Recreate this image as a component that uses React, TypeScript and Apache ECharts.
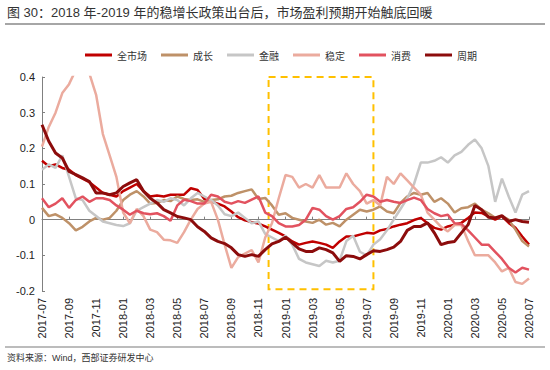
import React, { useEffect, useRef } from "react";
import * as echarts from "echarts";

// x positions: half-month steps starting 2017-07 (value = months since 2017-07)
const START_YEAR = 2017;
const START_MONTH = 7;

const seriesNames = ["全市场", "成长", "金融", "稳定", "消费", "周期"];
const seriesColors = ["#C00000", "#BE9168", "#C6C6C6", "#EBAB9E", "#E2525F", "#8C0C0C"];
const seriesWidths = [2.5, 2.5, 2.5, 2.5, 2.5, 3];

const quanShiChang = [
  0.165, 0.15, 0.155, 0.145, 0.14, 0.125, 0.115, 0.105, 0.09, 0.075, 0.07, 0.065,
  0.08, 0.09, 0.1, 0.08, 0.065, 0.068, 0.065, 0.07, 0.07, 0.07, 0.088, 0.083,
  0.058, 0.051, 0.045, 0.037, 0.023, 0.007, -0.002, -0.007, -0.011, -0.019, -0.028, -0.037,
  -0.047, -0.061, -0.07, -0.065, -0.061, -0.065, -0.07, -0.079, -0.061, -0.047, -0.047, -0.042,
  -0.037, -0.039, -0.03, -0.026, -0.019, -0.014, -0.01, -0.001, 0.005, -0.01, -0.023, -0.028,
  -0.019, -0.014, -0.009, 0.005, 0.02, 0.019, 0.009, 0.0, 0.009, -0.009, -0.023, -0.047,
  -0.07,
];
const chengZhang = [
  0.033, 0.01, 0.015, 0.005, -0.01, -0.03, -0.02, -0.005, 0.005, 0.0, 0.005, 0.025,
  0.055, 0.07, 0.08, 0.065, 0.045, 0.047, 0.055, 0.052, 0.065, 0.058, 0.055, 0.057,
  0.05, 0.055, 0.057, 0.065, 0.067, 0.075, 0.08, 0.085, 0.058, 0.061, 0.04, 0.014,
  0.018, 0.005, 0.0, -0.005, -0.009, 0.0, -0.014, -0.009, -0.019, 0.0, 0.014, 0.028,
  0.023, 0.028, 0.037, 0.023, 0.018, 0.047, 0.065, 0.075, 0.07, 0.075, 0.05, 0.06,
  0.045, 0.02, 0.032, 0.035, 0.045, 0.028, 0.018, 0.005, 0.01, 0.0, -0.028, -0.06,
  -0.075,
];
const jinRong = [
  0.14, 0.155, 0.145, 0.18, 0.12, 0.06, 0.055, 0.025, 0.01, -0.005, -0.01, -0.015,
  -0.018, -0.01, 0.025, 0.035, 0.045, 0.055, 0.05, 0.06, 0.055, 0.04, 0.06, 0.075,
  0.065, 0.055, 0.04, 0.015, 0.01, 0.02, 0.005, -0.01, -0.005, -0.04, -0.05, -0.06,
  -0.045, -0.07, -0.11, -0.12, -0.125, -0.13, -0.115, -0.12, -0.115, -0.06, -0.045, -0.09,
  -0.1, -0.07, -0.055, -0.03, 0.0, 0.03, 0.06, 0.1, 0.16, 0.16, 0.165, 0.175,
  0.16, 0.18, 0.19, 0.21, 0.225, 0.2, 0.15, 0.05, 0.115, 0.065, 0.02, 0.07,
  0.08,
];
const wenDing = [
  0.205, 0.26, 0.3, 0.355, 0.38, 0.42, 0.45, 0.41, 0.35, 0.24, 0.18, 0.12,
  0.02, -0.01, 0.03, 0.01, -0.028, -0.035, -0.056, -0.058, -0.065, -0.035, 0.0, 0.03,
  0.045, 0.05, 0.0, -0.07, -0.135, -0.105, -0.095, -0.085, -0.12, -0.05, -0.01, 0.06,
  0.125, 0.12, 0.09, 0.1, 0.09, 0.125, 0.09, 0.09, 0.09, 0.13, 0.1, 0.08,
  0.045, 0.055, 0.04, 0.12, 0.1, 0.13, 0.11, 0.09, 0.07, 0.02, 0.0, -0.02,
  -0.033, -0.015, -0.015, -0.06, -0.1, -0.1, -0.1, -0.12, -0.145, -0.135, -0.175, -0.18,
  -0.165,
];
const xiaoFei = [
  0.06, 0.035, 0.045, 0.06, 0.033, 0.055, 0.065, 0.05, 0.06, 0.06, 0.055, 0.04,
  0.028, 0.014, 0.025, 0.018, 0.015, 0.018, 0.01, -0.003, 0.04, 0.056, 0.052, 0.045,
  0.045, 0.07, 0.065, 0.05, 0.045, 0.052, 0.047, 0.056, 0.065, 0.02, 0.01, -0.01,
  -0.019, -0.019, -0.015, 0.0, 0.033, 0.028, 0.01, 0.0, 0.01, 0.03, 0.035, 0.05,
  0.07, 0.065, 0.05, 0.055, 0.05, 0.047, 0.055, 0.062, 0.055, 0.03, 0.018, 0.01,
  0.014, -0.01, -0.012, -0.03, -0.05, -0.07, -0.07, -0.09, -0.11, -0.135, -0.148, -0.135,
  -0.14,
];
const zhouQi = [
  0.266, 0.22, 0.187, 0.173, 0.135, 0.126, 0.117, 0.107, 0.075, 0.075, 0.07, 0.075,
  0.093, 0.103, 0.112, 0.08, 0.06, 0.047, 0.028, 0.019, 0.009, 0.005, 0.0, -0.02,
  -0.033, -0.051, -0.061, -0.067, -0.079, -0.098, -0.103, -0.098, -0.103, -0.084, -0.068, -0.061,
  -0.049, -0.065, -0.082, -0.089, -0.089, -0.079, -0.084, -0.093, -0.117, -0.101, -0.103, -0.11,
  -0.098, -0.087, -0.089, -0.084, -0.077, -0.061, -0.03, -0.019, -0.019, -0.009, -0.037, -0.07,
  -0.064, -0.061, -0.037, -0.014, 0.04, 0.028, 0.007, 0.005, 0.011, -0.005, 0.0, -0.005,
  -0.007,
];

const allSeries = [quanShiChang, chengZhang, jinRong, wenDing, xiaoFei, zhouQi];

// highlighted window (months since 2017-07) and value range of the dashed box
const boxStart = 16.75;
const boxEnd = 24.5;
const boxTop = 0.4;
const boxBottom = -0.195;

const yTicks = { min: -0.2, max: 0.4, interval: 0.1 };
const xTicks = { min: 0, max: 36, interval: 2 };

const titleText = "图 30：2018 年-2019 年的稳增长政策出台后，市场盈利预期开始触底回暖";
const sourceText = "资料来源：Wind，西部证券研发中心";

function monthLabel(v: number): string {
  const total = START_MONTH - 1 + Math.round(v);
  const y = START_YEAR + Math.floor(total / 12);
  const m = (total % 12) + 1;
  return `${y}-${m < 10 ? "0" + m : m}`;
}

export default function App() {
  const ref = useRef<HTMLDivElement>(null);
  useEffect(() => {
    if (!ref.current) return;
    const chart = echarts.init(ref.current, undefined, { renderer: "svg" });
    const font = "Arial, 'Liberation Sans', 'Noto Sans CJK SC', sans-serif";
    const series: any[] = allSeries.map((vals, si) => ({
      name: seriesNames[si],
      type: "line",
      xAxisIndex: 0,
      yAxisIndex: 0,
      data: vals.map((v, i) => [i / 2, v]),
      showSymbol: false,
      symbol: "none",
      lineStyle: { color: seriesColors[si], width: seriesWidths[si] },
      itemStyle: { color: seriesColors[si] },
      z: 2 + si,
    }));
    series[0].markArea = {
      silent: true,
      itemStyle: {
        color: "rgba(0,0,0,0)",
        borderColor: "#FFC000",
        borderWidth: 2,
        borderType: [7, 5],
      },
      data: [[{ coord: [boxStart, boxTop] }, { coord: [boxEnd, boxBottom] }]],
    };
    chart.setOption({
      animation: false,
      backgroundColor: "#fff",
      textStyle: { fontFamily: font },
      grid: { left: 42, right: 21, top: 77, bottom: 79, containLabel: false },
      legend: {
        left: 85,
        top: 50,
        padding: 0,
        itemWidth: 27,
        itemHeight: 3,
        itemGap: 14,
        icon: "rect",
        data: seriesNames,
        textStyle: { fontSize: 10, color: "#333", fontFamily: "'Noto Sans CJK SC', sans-serif" },
      },
      xAxis: [
        {
          type: "value",
          min: xTicks.min,
          max: xTicks.max,
          interval: xTicks.interval,
          position: "bottom",
          axisLine: { show: false, onZero: false },
          axisTick: { show: false },
          splitLine: { show: false },
          axisLabel: {
            rotate: 90,
            margin: 7,
            fontSize: 11,
            color: "#222",
            fontFamily: font,
            formatter: (v: number) => monthLabel(v),
          },
        },
        {
          type: "value",
          min: xTicks.min,
          max: xTicks.max,
          interval: xTicks.interval,
          position: "bottom",
          axisLine: { show: true, onZero: true, lineStyle: { color: "#808080", width: 1 } },
          axisTick: { show: true, inside: true, length: 3, lineStyle: { color: "#808080" } },
          axisLabel: { show: false },
          splitLine: { show: false },
        },
      ],
      yAxis: {
        type: "value",
        min: yTicks.min,
        max: yTicks.max,
        interval: yTicks.interval,
        axisLine: { show: true, lineStyle: { color: "#808080", width: 1 } },
        axisTick: { show: true, inside: true, length: 3, lineStyle: { color: "#808080" } },
        splitLine: { show: false },
        axisLabel: {
          fontSize: 11,
          color: "#222",
          margin: 7,
          fontFamily: font,
          formatter: (v: number) => (Math.abs(v) < 1e-9 ? "0" : String(Math.round(v * 10) / 10)),
        },
      },
      graphic: [
        {
          type: "text",
          left: 7,
          top: 6,
          style: { text: titleText, fontSize: 13, fill: "#333", fontFamily: font },
        },
        {
          type: "line",
          shape: { x1: 5, y1: 24, x2: 545, y2: 24 },
          style: { stroke: "#A6A6A6", lineWidth: 2 },
        },
        {
          type: "line",
          shape: { x1: 5, y1: 347, x2: 545, y2: 347 },
          style: { stroke: "#A6A6A6", lineWidth: 1.5 },
        },
        {
          type: "text",
          left: 7,
          top: 353,
          style: { text: sourceText, fontSize: 9, fill: "#333", fontFamily: font },
        },
      ],
      series,
    });
    return () => chart.dispose();
  }, []);
  return <div ref={ref} style={{ width: 550, height: 370, position: "absolute", left: 0, top: 0 }} />;
}
